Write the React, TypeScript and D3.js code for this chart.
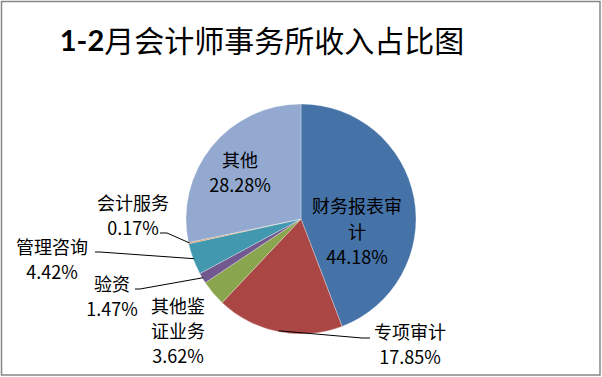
import React from "react";
import * as d3 from "d3";

const categories = ["财务报表审计", "专项审计", "其他鉴证业务", "验资", "管理咨询", "会计服务", "其他"];
const values = [44.18, 17.85, 3.62, 1.47, 4.42, 0.17, 28.28];
const colors = ["#4572A7", "#AA4643", "#89A54E", "#71588F", "#4198AF", "#DB843D", "#93A9CF"];
const labelLines = [
  ["财务报表审", "计", "44.18%"],
  ["专项审计", "17.85%"],
  ["其他鉴", "证业务", "3.62%"],
  ["验资", "1.47%"],
  ["管理咨询", "4.42%"],
  ["会计服务", "0.17%"],
  ["其他", "28.28%"],
];
const title = "1-2月会计师事务所收入占比图";

// layout: label centre x, first-line centre y, line height, leader start (or null)
const labelLayout = [
  { x: 357, y: 205, lh: 25.5, leader: null },
  { x: 410, y: 331, lh: 24.5, leader: [[370, 338], [362, 338]] },
  { x: 178, y: 305, lh: 25, leader: null },
  { x: 112, y: 283, lh: 24.5, leader: [[135, 289], [140, 289]] },
  { x: 52, y: 246, lh: 24.5, leader: [[95, 252], [100, 252]] },
  { x: 133, y: 202, lh: 25, leader: [[160, 233], [167, 233]] },
  { x: 240, y: 159, lh: 25, leader: null },
];

export default function App() {
  const W = 602, H = 377;
  const cx = 301, cy = 219, r = 115;
  const data = values.map((v, i) => ({ v, i }));
  const pie = d3.pie<{ v: number; i: number }>().value((d) => d.v).sort(null);
  const arcs = pie(data);
  const arc = d3.arc<d3.PieArcDatum<{ v: number; i: number }>>().innerRadius(0).outerRadius(r);
  const cjk = "'Noto Sans CJK SC', 'Noto Sans', sans-serif";

  return (
    <svg width={W} height={H} style={{ position: "absolute", left: 0, top: 0, background: "#fff" }}>
      <rect x={1.5} y={1.5} width={598.5} height={373.5} fill="#fff" stroke="#868686" strokeWidth={1.5} />
      <text x={262} y={39} textAnchor="middle" dominantBaseline="central" fontFamily={cjk} fontSize={30} fill="#000">
        <tspan fontFamily="Lato, 'Open Sans', sans-serif" fontWeight="bold" fontSize={29}>{title.slice(0, 3)}</tspan>
        <tspan>{title.slice(3)}</tspan>
      </text>
      <g transform={`translate(${cx},${cy})`}>
        {arcs.map((a) => (
          <path key={a.index} d={arc(a) || ""} fill={colors[a.data.i]} stroke="#ffffff" strokeOpacity={0.5} strokeWidth={0.6} />
        ))}
      </g>
      {arcs.map((a) => {
        const L = labelLayout[a.index];
        if (!L.leader) return null;
        const mid = (a.startAngle + a.endAngle) / 2;
        const px = cx + Math.sin(mid) * (r - 1);
        const py = cy - Math.cos(mid) * (r - 1);
        const pts = [...L.leader, [px, py]];
        return (
          <polyline key={"l" + a.index} points={pts.map((p) => p.join(",")).join(" ")} fill="none" stroke="#000" strokeWidth={1} />
        );
      })}
      {labelLines.map((lines, i) => {
        const L = labelLayout[i];
        return (
          <text key={"t" + i} fontFamily={cjk} fontSize={18} fill="#000" textAnchor="middle">
            {lines.map((s, j) => (
              <tspan key={j} x={L.x} y={L.y + j * L.lh} dominantBaseline="central">{s}</tspan>
            ))}
          </text>
        );
      })}
      <title>{categories.join(",")}</title>
    </svg>
  );
}
